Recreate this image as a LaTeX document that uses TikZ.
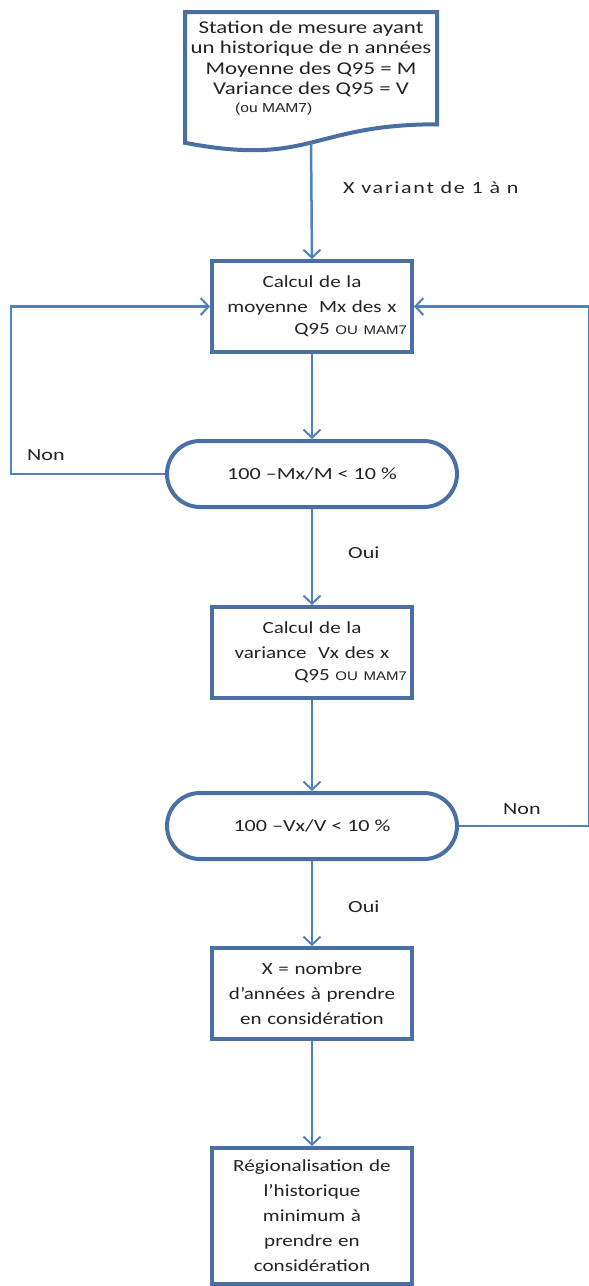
\documentclass[tikz,border=0pt]{standalone}
\usepackage{fontspec}
\setmainfont{Carlito}[FakeStretch=1.24]
\newfontfamily\docf{Carlito}[FakeStretch=1.27]
\newfontfamily\lblf{Carlito}[FakeStretch=1.3]
\newfontfamily\spacedf{Carlito}[FakeStretch=1.3,LetterSpace=10]
\newfontfamily\arialf{Liberation Sans}[FakeStretch=1.2]
\usetikzlibrary{arrows.meta}
\definecolor{boxc}{RGB}{74,112,163}
\definecolor{linec}{RGB}{79,129,189}
\definecolor{txt}{RGB}{35,35,35}
\newcommand{\ouMAM}{{\arialf\fontsize{12.5}{14}\selectfont OU MAM7}}
\begin{document}
\begin{tikzpicture}[x=1pt,y=-1pt,
 stepbox/.style={draw=boxc, line width=4pt, fill=white, minimum width=200pt, minimum height=91pt, inner sep=0pt, text width=190pt, align=center, font=\fontsize{17}{25}\selectfont, text=txt},
 term/.style={draw=boxc, line width=4pt, fill=white, rounded corners=33pt, minimum width=290pt, minimum height=66pt, font=\lblf\fontsize{17}{20}\selectfont, text=txt},
 conn/.style={draw=linec, line width=2.5pt, -{Straight Barb[length=8pt,width=17pt,line width=2pt]}},
 lbl/.style={font=\lblf\fontsize{17}{20}\selectfont, text=txt, inner sep=0pt},
 small/.style={font=\arialf\fontsize{13}{14}\selectfont, text=txt, inner sep=0pt}]
\useasboundingbox (0,0) rectangle (589,1286);
\fill[white] (0,0) rectangle (589,1286);
% document shape
\draw[boxc, line width=4pt, fill=white] (185,12) -- (437,12) -- (437,124.3) .. controls (311,124.3) and (311,167) .. (185,142.8) -- cycle;
\node[lbl, align=center, font=\docf\fontsize{18}{20.3}\selectfont] (doc) at (311,59) {Station de mesure ayant\\un historique de n années\\Moyenne des Q95 = M\\Variance des Q95 = V};
\node[small, anchor=west] (docou) at (235,109) {(ou MAM7)};
\coordinate (docb) at (311,143);
% boxes
\node[stepbox] (b1) at (312,306.5) {Calcul de la\\moyenne\ \ Mx des x\\[-3pt]\makebox[190pt][r]{Q95 \ouMAM}};
\node[term] (t1) at (312,474) {100 –Mx/M < 10 \%};
\node[stepbox] (b2) at (312,652.5) {Calcul de la\\variance\ \ Vx des x\\[-3pt]\makebox[190pt][r]{Q95 \ouMAM}};
\node[term] (t2) at (312,826) {100 –Vx/V < 10 \%};
\node[stepbox] (b3) at (312,993.5) {X = nombre\\d’années à prendre\\en considération};
\node[stepbox, minimum height=136pt] (b4) at (312,1216) {Régionalisation de\\l’historique\\minimum à\\prendre en\\considération};
% labels
\node[lbl, anchor=west, font=\spacedf\fontsize{17}{20}\selectfont] (lx) at (343,188) {X variant de 1 à n};
\node[lbl, anchor=west] (non1) at (27,455) {Non};
\node[lbl, anchor=west] (oui1) at (348,553) {Oui};
\node[lbl, anchor=west] (non2) at (503,809) {Non};
\node[lbl, anchor=west] (oui2) at (348,907) {Oui};
% connectors
\draw[conn] (docb) -- (b1.north);
\draw[conn] (b1.south) -- (t1.north);
\draw[conn] (t1.south) -- (b2.north);
\draw[conn] (b2.south) -- (t2.north);
\draw[conn] (t2.south) -- (b3.north);
\draw[conn] (b3.south) -- (b4.north);
\draw[conn] (t1.west) -- ++(-154,0) |- (b1.west);
\draw[conn] (t2.east) -- ++(130,0) |- (b1.east);
\end{tikzpicture}
\end{document}
